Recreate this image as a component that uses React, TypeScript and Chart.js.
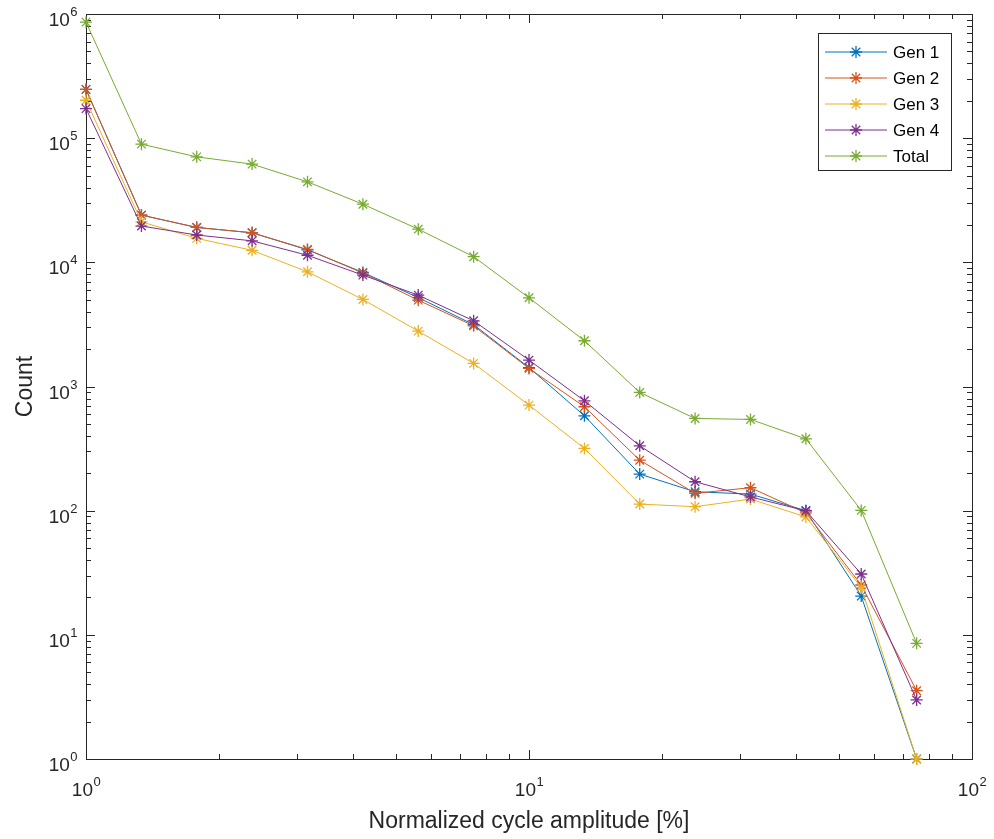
import React, { useEffect, useRef } from 'react';
import { Chart, registerables } from 'chart.js';

Chart.register(...registerables);

// ---- data ----
const xValues = [1, 1.334, 1.778, 2.371, 3.162, 4.217, 5.623, 7.499, 10, 13.34, 17.78, 23.71, 31.62, 42.17, 56.23, 74.99];
const gen1 = [247000, 24000, 19100, 17300, 12600, 8300, 5200, 3150, 1420, 581, 197, 142, 136, 100, 20.5, 1];
const gen2 = [247000, 24000, 19100, 17300, 12700, 8200, 4960, 3080, 1399, 687, 255, 138, 153, 96, 25.2, 3.55];
const gen3 = [202000, 21200, 15600, 12500, 8390, 5025, 2793, 1535, 708, 317, 113, 107.6, 124, 89, 24.1, 1];
const gen4 = [173000, 19600, 16600, 14900, 11400, 7890, 5445, 3380, 1632, 767, 333, 171, 129, 99.8, 30.9, 2.99];
const total = [860000, 89500, 70700, 61800, 44500, 29400, 18500, 11100, 5180, 2335, 896, 553, 543, 379, 100.5, 8.54];

const seriesLabels = ['Gen 1', 'Gen 2', 'Gen 3', 'Gen 4', 'Total'];
const seriesColors = ['#0072BD', '#D95319', '#EDB120', '#7E2F8E', '#77AC30'];
const seriesValues = [gen1, gen2, gen3, gen4, total];

const xTickExponents = [0, 1, 2];
const yTickExponents = [0, 1, 2, 3, 4, 5, 6];
const xTitle = 'Normalized cycle amplitude [%]';
const yTitle = 'Count';

// ---- style ----
const FONT = '"Liberation Sans", Arial, Helvetica, sans-serif';
const AXIS = '#262626';
const MARKER_R = 6;

function drawStar(ctx: CanvasRenderingContext2D, x: number, y: number, r: number) {
  const d = r * Math.SQRT1_2;
  ctx.beginPath();
  ctx.moveTo(x - r, y); ctx.lineTo(x + r, y);
  ctx.moveTo(x, y - r); ctx.lineTo(x, y + r);
  ctx.moveTo(x - d, y - d); ctx.lineTo(x + d, y + d);
  ctx.moveTo(x - d, y + d); ctx.lineTo(x + d, y - d);
  ctx.stroke();
}

function drawPow(ctx: CanvasRenderingContext2D, exp: number, x: number, baseline: number, align: 'center' | 'right') {
  const base = '10';
  const e = String(exp);
  ctx.textAlign = 'left';
  ctx.textBaseline = 'alphabetic';
  ctx.font = `19px ${FONT}`;
  const wb = ctx.measureText(base).width;
  ctx.font = `13px ${FONT}`;
  const we = ctx.measureText(e).width;
  const w = wb + we;
  const left = align === 'center' ? x - w / 2 : x - w;
  ctx.font = `19px ${FONT}`;
  ctx.fillText(base, left, baseline);
  ctx.font = `13px ${FONT}`;
  ctx.fillText(e, left + wb + 0.5, baseline - 10);
}

const axesPlugin = {
  id: 'matlabAxes',
  beforeDatasetsDraw(chart: any) {
    const { ctx, chartArea, scales } = chart;
    const { left, right, top, bottom } = chartArea;
    const xs = scales.x;
    const ys = scales.y;
    ctx.save();
    ctx.strokeStyle = AXIS;
    ctx.lineWidth = 1;
    ctx.beginPath();
    for (let i = 0; i < xTickExponents.length; i++) {
      const dec = Math.pow(10, xTickExponents[i]);
      const maxM = i === xTickExponents.length - 1 ? 1 : 9;
      for (let m = 1; m <= maxM; m++) {
        const px = Math.round(xs.getPixelForValue(dec * m)) + 0.5;
        const len = m === 1 ? 9 : 5;
        ctx.moveTo(px, bottom);
        ctx.lineTo(px, bottom - len);
        ctx.moveTo(px, top);
        ctx.lineTo(px, top + len);
      }
    }
    for (let i = 0; i < yTickExponents.length; i++) {
      const dec = Math.pow(10, yTickExponents[i]);
      const maxM = i === yTickExponents.length - 1 ? 1 : 9;
      for (let m = 1; m <= maxM; m++) {
        const py = Math.round(ys.getPixelForValue(dec * m)) + 0.5;
        const len = m === 1 ? 9 : 5;
        ctx.moveTo(left, py);
        ctx.lineTo(left + len, py);
        ctx.moveTo(right, py);
        ctx.lineTo(right - len, py);
      }
    }
    ctx.stroke();
    ctx.strokeRect(Math.round(left) + 0.5, Math.round(top) + 0.5, Math.round(right - left), Math.round(bottom - top));

    ctx.fillStyle = AXIS;
    for (const ex of xTickExponents) {
      const px = xs.getPixelForValue(Math.pow(10, ex));
      drawPow(ctx, ex, px, bottom + 37, 'center');
    }
    for (const ex of yTickExponents) {
      const py = ys.getPixelForValue(Math.pow(10, ex));
      drawPow(ctx, ex, left - 9, py + 12, 'right');
    }

    ctx.font = `23px ${FONT}`;
    ctx.textAlign = 'center';
    ctx.textBaseline = 'alphabetic';
    ctx.fillText(xTitle, (left + right) / 2, bottom + 69);
    ctx.save();
    ctx.translate(32, (top + bottom) / 2);
    ctx.rotate(-Math.PI / 2);
    ctx.fillText(yTitle, 0, 0);
    ctx.restore();
    ctx.restore();
  },
  afterDraw(chart: any) {
    const { ctx } = chart;
    ctx.save();
    const bx = 818.5, by = 33.5, bw = 133, bh = 137;
    ctx.fillStyle = '#ffffff';
    ctx.fillRect(bx, by, bw, bh);
    ctx.strokeStyle = AXIS;
    ctx.lineWidth = 1;
    ctx.strokeRect(bx, by, bw, bh);
    chart.data.datasets.forEach((ds: any, i: number) => {
      const cy = 52 + i * 26;
      ctx.strokeStyle = ds.borderColor;
      ctx.lineWidth = 1;
      ctx.beginPath();
      ctx.moveTo(825, cy);
      ctx.lineTo(887, cy);
      ctx.stroke();
      ctx.lineWidth = 1.3;
      drawStar(ctx, 856, cy, MARKER_R);
      ctx.fillStyle = '#000000';
      ctx.font = `17px ${FONT}`;
      ctx.textAlign = 'left';
      ctx.textBaseline = 'middle';
      ctx.fillText(ds.label, 893, cy + 1);
    });
    ctx.restore();
  },
};

export default function App() {
  const ref = useRef<HTMLCanvasElement | null>(null);
  useEffect(() => {
    if (!ref.current) return;
    const chart = new Chart(ref.current, {
      type: 'line',
      data: {
        datasets: seriesValues.map((vals, i) => ({
          label: seriesLabels[i],
          data: xValues.map((x, j) => ({ x, y: vals[j] })),
          borderColor: seriesColors[i],
          backgroundColor: seriesColors[i],
          borderWidth: 1,
          pointStyle: 'star',
          pointRadius: MARKER_R,
          pointBorderWidth: 1.3,
          pointBorderColor: seriesColors[i],
          tension: 0,
          fill: false,
          clip: false,
          order: seriesValues.length - i,
        })),
      },
      options: {
        animation: false,
        responsive: false,
        devicePixelRatio: 1,
        layout: { padding: { left: 86, top: 14, right: 22, bottom: 80 } },
        plugins: {
          legend: { display: false },
          tooltip: { enabled: false },
        },
        scales: {
          x: { type: 'logarithmic', min: 1, max: 100, display: false },
          y: { type: 'logarithmic', min: 1, max: 1000000, display: false },
        },
      },
      plugins: [axesPlugin],
    } as any);
    return () => chart.destroy();
  }, []);
  return (
    <div style={{ position: 'fixed', left: 0, top: 0, width: 994, height: 839, background: '#ffffff' }}>
      <canvas ref={ref} width={994} height={839} style={{ display: 'block' }} />
    </div>
  );
}
